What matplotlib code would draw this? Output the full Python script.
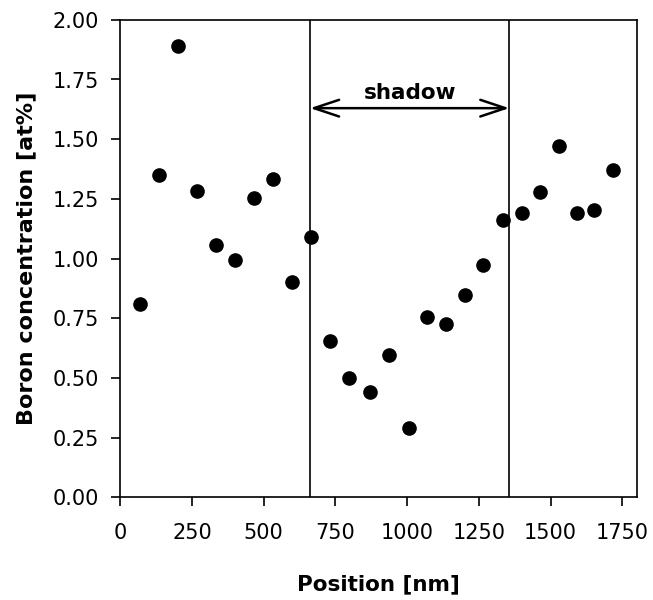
import matplotlib
matplotlib.use("Agg")
import matplotlib.pyplot as plt

plt.rcParams['font.family'] = ['DejaVu Sans']

# measured boron concentration along the sample
position = [70, 135, 203, 269, 334, 400, 467, 532, 599, 664,
            732, 799, 869, 936, 1005, 1071, 1135, 1202, 1264, 1333,
            1400, 1463, 1528, 1593, 1653, 1718]
boron = [0.81, 1.35, 1.89, 1.285, 1.055, 0.995, 1.255, 1.335, 0.90, 1.09,
         0.655, 0.50, 0.44, 0.595, 0.29, 0.755, 0.725, 0.848, 0.972, 1.16,
         1.19, 1.28, 1.47, 1.19, 1.205, 1.372]

shadow_start = 662
shadow_end = 1356
xticks = [0, 250, 500, 750, 1000, 1250, 1500, 1750]
yticks = [0.0, 0.25, 0.5, 0.75, 1.0, 1.25, 1.5, 1.75, 2.0]

fig = plt.figure(figsize=(6.53, 6.0), dpi=100)
ax = fig.add_axes([0.184, 0.171, 0.791, 0.796])

ax.plot(position, boron, 'o', color='black', markersize=9.5)

ax.axvline(shadow_start, color='black', linewidth=1.2)
ax.axvline(shadow_end, color='black', linewidth=1.2)
ax.annotate('', xy=(shadow_start, 1.63), xytext=(shadow_end, 1.63),
            arrowprops=dict(arrowstyle='<->, head_length=0.6, head_width=0.2',
                            color='black', lw=1.8,
                            mutation_scale=30, shrinkA=0, shrinkB=0))
ax.text(1010, 1.695, 'shadow', ha='center', va='center',
        fontsize=15.5, fontweight='bold')

ax.set_xlim(0, 1800)
ax.set_ylim(0, 2.0)
ax.set_xticks(xticks)
ax.set_yticks(yticks)
ax.set_yticklabels([f"{v:.2f}" for v in yticks])
ax.tick_params(direction='out', length=6.5, width=1.2, labelsize=15)
ax.tick_params(axis='x', pad=12)
ax.tick_params(axis='y', pad=9)
for s in ax.spines.values():
    s.set_linewidth(1.2)

ax.set_xlabel('Position [nm]', fontsize=15.5, fontweight='bold')
ax.set_ylabel('Boron concentration [at%]', fontsize=16, fontweight='bold')
ax.xaxis.set_label_coords(0.5, -0.162)
ax.yaxis.set_label_coords(-0.163, 0.5)

fig.savefig('out.png', dpi=100)
